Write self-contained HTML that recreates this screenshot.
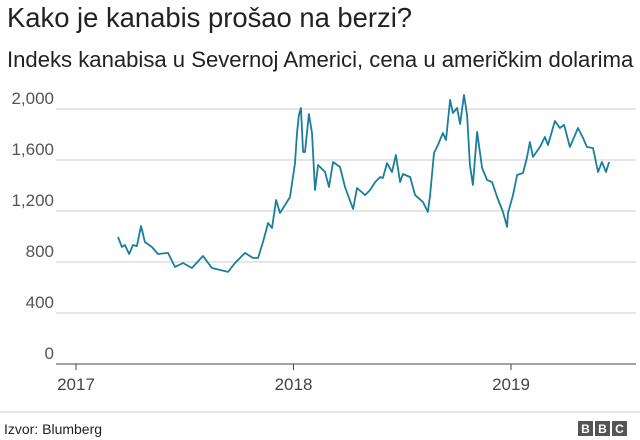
<!DOCTYPE html>
<html><head><meta charset="utf-8"><style>
body{margin:0;background:#fff;font-family:"Liberation Sans",Arial,sans-serif}
svg{display:block}
</style></head><body>
<svg width="640" height="440">
<text x="7" y="27" font-size="27.4" fill="#222">Kako je kanabis prošao na berzi?</text>
<text x="7" y="67" font-size="22.1" fill="#222">Indeks kanabisa u Severnoj Americi, cena u američkim dolarima</text>
<g id="grid"></g><g id="xaxis"></g>
<path id="line" fill="none" stroke="#1b7e9c" stroke-width="1.8" stroke-linejoin="round"></path>
<line x1="0" y1="412" x2="640" y2="412" stroke="#ccc"></line>
<text x="4" y="434" font-size="14" fill="#222">Izvor: Blumberg</text>
<g>
<rect x="578" y="421" width="15" height="15" fill="#555"></rect><rect x="595" y="421" width="15" height="15" fill="#555"></rect><rect x="612" y="421" width="15" height="15" fill="#555"></rect>
<text x="585.5" y="433" font-size="12" font-weight="bold" fill="#fff" text-anchor="middle">B</text>
<text x="602.5" y="433" font-size="12" font-weight="bold" fill="#fff" text-anchor="middle">B</text>
<text x="619.5" y="433" font-size="12" font-weight="bold" fill="#fff" text-anchor="middle">C</text>
</g>
</svg>
<script>
const yTicks=[0,400,800,1200,1600,2000];
const yTickLabels=["0","400","800","1,200","1,600","2,000"];
const xTicks=[2017,2018,2019];
const dates=[2017.193,2017.211,2017.225,2017.244,2017.262,2017.280,2017.299,2017.317,2017.349,2017.377,2017.423,2017.455,2017.492,2017.533,2017.584,2017.625,2017.699,2017.731,2017.777,2017.814,2017.837,2017.860,2017.883,2017.901,2017.920,2017.938,2017.984,2018.007,2018.016,2018.025,2018.034,2018.044,2018.053,2018.071,2018.085,2018.099,2018.113,2018.145,2018.163,2018.182,2018.214,2018.237,2018.274,2018.292,2018.329,2018.352,2018.375,2018.398,2018.411,2018.430,2018.453,2018.471,2018.490,2018.503,2018.536,2018.559,2018.595,2018.618,2018.628,2018.646,2018.664,2018.687,2018.701,2018.720,2018.733,2018.752,2018.766,2018.784,2018.798,2018.811,2018.825,2018.844,2018.867,2018.890,2018.913,2018.936,2018.963,2018.982,2018.986,2019.009,2019.028,2019.055,2019.074,2019.087,2019.101,2019.133,2019.156,2019.170,2019.202,2019.225,2019.244,2019.271,2019.308,2019.331,2019.349,2019.377,2019.400,2019.418,2019.437,2019.451];
const values=[996,918,933,863,933,925,1082,957,918,863,871,761,792,753,847,753,722,792,871,831,831,957,1106,1067,1286,1184,1310,1576,1812,1953,2008,1663,1663,1961,1812,1365,1561,1506,1388,1584,1545,1388,1216,1380,1325,1365,1427,1467,1459,1576,1506,1639,1427,1490,1467,1325,1271,1192,1325,1655,1718,1812,1757,2071,1969,2008,1882,2110,1953,1561,1404,1820,1537,1443,1427,1310,1192,1075,1184,1325,1482,1498,1624,1741,1624,1702,1780,1718,1906,1851,1875,1702,1851,1773,1702,1694,1506,1584,1506,1584];
const X=t=>76+(t-2017)*217.5;
const Y=v=>364-v*0.1275;
const ns="http://www.w3.org/2000/svg";
const grid=document.getElementById('grid');
yTicks.forEach((v,i)=>{
 const l=document.createElementNS(ns,'line');
 l.setAttribute('x1',56);l.setAttribute('x2',636);l.setAttribute('y1',Y(v));l.setAttribute('y2',Y(v));
 l.setAttribute('stroke',v===0?'#444':'#ccc');l.setAttribute('stroke-width',1);
 
 
 grid.appendChild(l);
 const t=document.createElementNS(ns,'text');
 t.setAttribute('x',54);t.setAttribute('y',Y(v)-5);t.setAttribute('text-anchor','end');
 t.setAttribute('font-size',17);t.setAttribute('fill','#555');t.textContent=yTickLabels[i];
 
 
 grid.appendChild(t);
});
const xa=document.getElementById('xaxis');
xTicks.forEach(y=>{
 const l=document.createElementNS(ns,'line');
 l.setAttribute('x1',X(y));l.setAttribute('x2',X(y));l.setAttribute('y1',364);l.setAttribute('y2',370);
 l.setAttribute('stroke','#444');
 
 
 xa.appendChild(l);
 const t=document.createElementNS(ns,'text');
 t.setAttribute('x',X(y));t.setAttribute('y',390);t.setAttribute('text-anchor','middle');
 t.setAttribute('font-size',17);t.setAttribute('fill','#444');t.textContent=y;
 
 
 xa.appendChild(t);
});
document.getElementById('line').setAttribute('d',dates.map((d,i)=>(i?'L':'M')+X(d).toFixed(1)+','+Y(values[i]).toFixed(1)).join(''));
</script>
</body></html>
